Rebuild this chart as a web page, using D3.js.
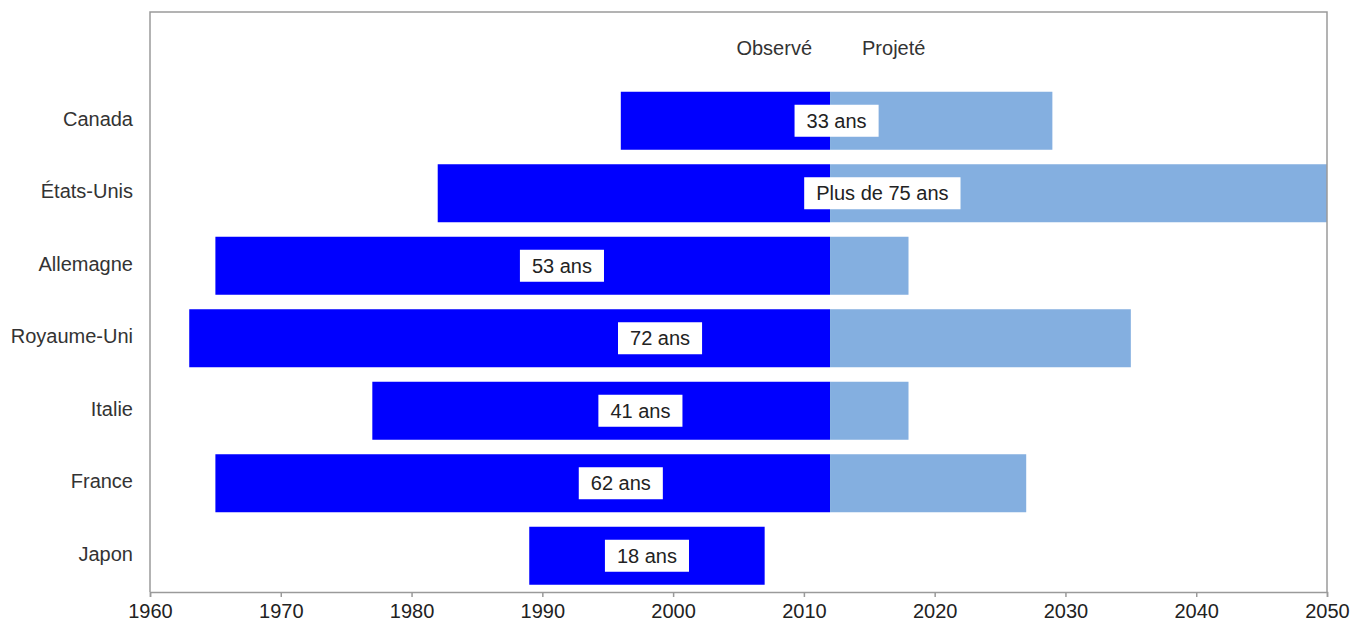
<!DOCTYPE html>
<html lang="fr">
<head>
<meta charset="utf-8">
<title>Durée des périodes</title>
<script src="https://cdn.jsdelivr.net/npm/d3@7/dist/d3.min.js"></script>
<style>
  html, body { margin: 0; padding: 0; background: #fff; }
  svg { display: block; font-family: "Liberation Sans", Arial, sans-serif; }
</style>
</head>
<body>
<svg id="chart" width="1359" height="623"></svg>
<script>
// Pays, du haut vers le bas
const countries = ["Canada", "États-Unis", "Allemagne", "Royaume-Uni", "Italie", "France", "Japon"];
// Début de la période observée (année)
const observedStart = [1996, 1982, 1965, 1963, 1977, 1965, 1989];
// Fin de la période observée (année)
const observedEnd = [2012, 2012, 2012, 2012, 2012, 2012, 2007];
// Fin de la période projetée (année), null si aucune projection
const projectedEnd = [2029, 2057, 2018, 2035, 2018, 2027, null];
// Étiquettes de durée
const durationLabels = ["33 ans", "Plus de 75 ans", "53 ans", "72 ans", "41 ans", "62 ans", "18 ans"];
// Graduations de l'axe horizontal
const xTicks = [1960, 1970, 1980, 1990, 2000, 2010, 2020, 2030, 2040, 2050];
const headerObserved = "Observé";
const headerProjected = "Projeté";

const rows = countries.map((c, i) => ({
  country: c,
  start: observedStart[i],
  obsEnd: observedEnd[i],
  projEnd: projectedEnd[i],
  label: durationLabels[i]
}));

const svg = d3.select("#chart");
const margin = { left: 150, right: 32, top: 12, bottom: 31 };
const W = 1359, H = 623;
const x0 = margin.left, x1 = W - margin.right;
const y0 = margin.top, y1 = H - margin.bottom;
const fs = 20;

const x = d3.scaleLinear().domain([1960, 2050]).range([x0, x1]);
// a blank first band holds the "Observé / Projeté" header
const y = d3.scaleBand()
  .domain(["__header__", ...countries])
  .range([y0, y1])
  .paddingInner(0.2)
  .paddingOuter(0.1);

const dark = "#0000ff";
const light = "#84afe0";
const frame = "#9a9a9a";
const textColor = "#333";

svg.append("defs").append("clipPath").attr("id", "plot-clip")
  .append("rect").attr("x", x0).attr("y", y0).attr("width", x1 - x0).attr("height", y1 - y0);

const plot = svg.append("g").attr("clip-path", "url(#plot-clip)");

// observed periods
plot.selectAll("rect.obs").data(rows).join("rect")
  .attr("class", "obs")
  .attr("x", d => x(d.start))
  .attr("y", d => y(d.country))
  .attr("width", d => x(d.obsEnd) - x(d.start))
  .attr("height", y.bandwidth())
  .attr("fill", dark);

// projected periods
plot.selectAll("rect.proj").data(rows.filter(d => d.projEnd != null)).join("rect")
  .attr("class", "proj")
  .attr("x", d => x(d.obsEnd))
  .attr("y", d => y(d.country))
  .attr("width", d => x(d.projEnd) - x(d.obsEnd))
  .attr("height", y.bandwidth())
  .attr("fill", light);

// duration labels on white boxes, centred on the visible span
const [dMin, dMax] = x.domain();
const lab = svg.append("g").selectAll("g").data(rows).join("g")
  .attr("transform", d => {
    const end = Math.min(d.projEnd != null ? d.projEnd : d.obsEnd, dMax);
    const mid = (Math.max(d.start, dMin) + end) / 2;
    return `translate(${x(mid)},${y(d.country) + y.bandwidth() / 2})`;
  });
lab.append("rect").attr("fill", "#fff");
lab.append("text")
  .attr("text-anchor", "middle")
  .attr("dy", "0.35em")
  .attr("font-size", fs)
  .attr("fill", "#222")
  .text(d => d.label)
  .each(function () {
    const b = this.getBBox();
    const padX = 12, h = 32;
    d3.select(this.previousSibling)
      .attr("x", -b.width / 2 - padX)
      .attr("y", -h / 2)
      .attr("width", b.width + 2 * padX)
      .attr("height", h);
  });

// header
const hy = y("__header__") + y.bandwidth() / 2;
svg.append("text")
  .attr("x", x(2012) - 18).attr("y", hy).attr("dy", "0.35em")
  .attr("text-anchor", "end").attr("font-size", fs).attr("fill", textColor)
  .text(headerObserved);
svg.append("text")
  .attr("x", x(2012) + 32).attr("y", hy).attr("dy", "0.35em")
  .attr("text-anchor", "start").attr("font-size", fs).attr("fill", textColor)
  .text(headerProjected);

// category labels
svg.append("g").selectAll("text").data(countries).join("text")
  .attr("x", x0 - 17)
  .attr("y", d => y(d) + y.bandwidth() / 2)
  .attr("dy", "0.26em")
  .attr("text-anchor", "end")
  .attr("font-size", fs)
  .attr("fill", textColor)
  .text(d => d);

// frame (left, top, right)
svg.append("path")
  .attr("d", `M${x0},${y1}V${y0}H${x1}V${y1}`)
  .attr("fill", "none").attr("stroke", frame).attr("stroke-width", 1.5);

// bottom axis
const xAxis = svg.append("g")
  .attr("transform", `translate(0,${y1})`)
  .call(d3.axisBottom(x).tickValues(xTicks).tickFormat(d3.format("d")).tickSize(5).tickPadding(7));
xAxis.attr("font-size", fs).attr("font-family", "'Liberation Sans', Arial, sans-serif");
xAxis.select(".domain").attr("stroke", frame).attr("stroke-width", 1.5);
xAxis.selectAll(".tick line").attr("stroke", frame).attr("stroke-width", 1.5);
xAxis.selectAll(".tick text").attr("fill", "#222");
</script>
</body>
</html>
